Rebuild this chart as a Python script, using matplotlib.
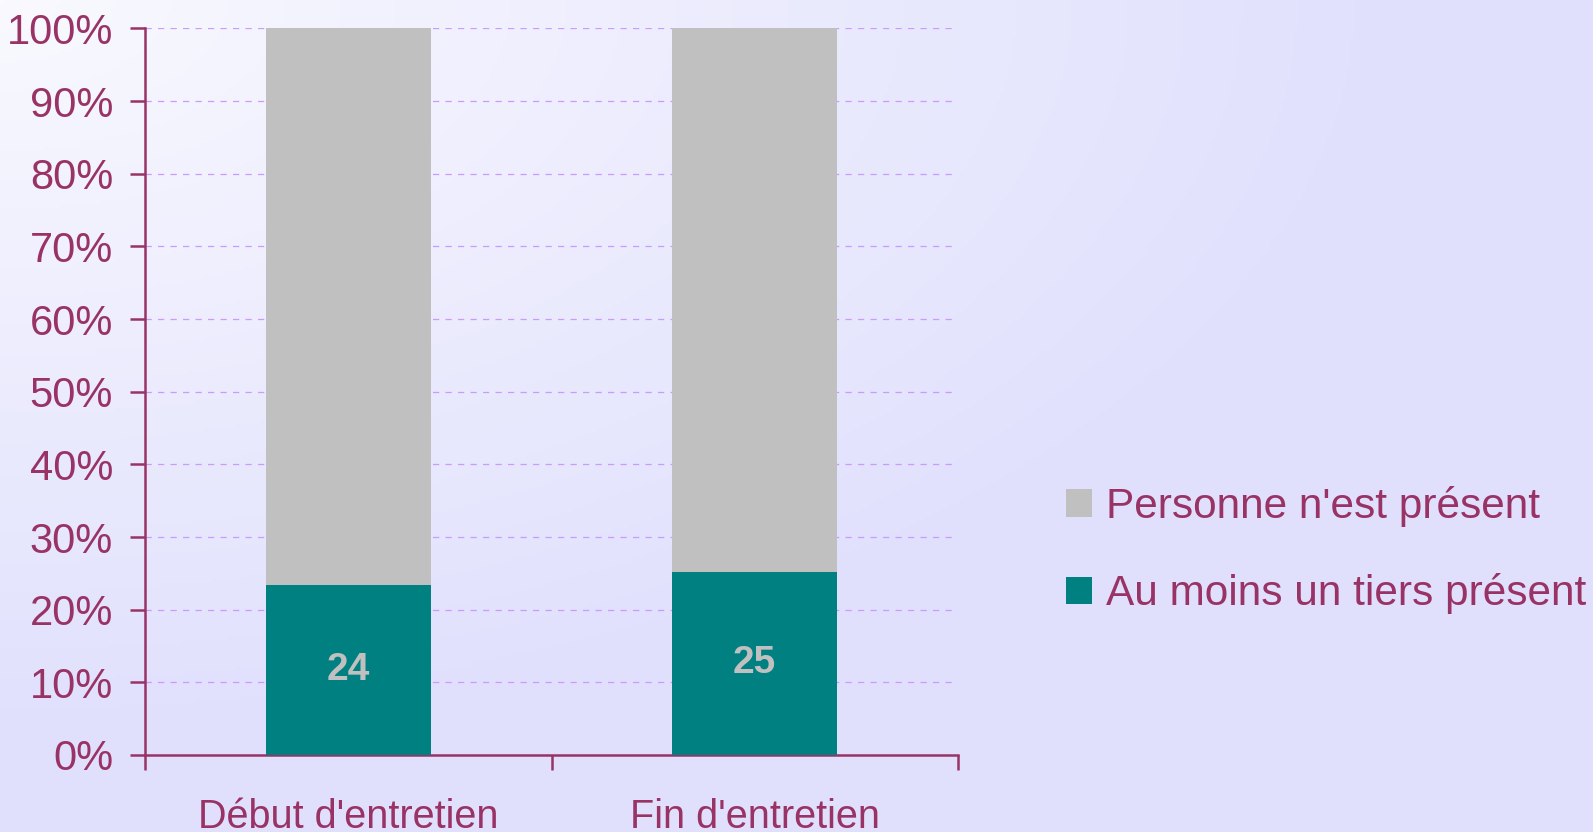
import matplotlib
matplotlib.use("Agg")
import matplotlib.pyplot as plt
import numpy as np
from matplotlib.patches import Patch

categories = ["Début d'entretien", "Fin d'entretien"]
tiers_present = [23.4, 25.2]
personne_present = [76.6, 74.8]
bar_labels = ["24", "25"]
series_names = ["Personne n'est présent", "Au moins un tiers présent"]
yticks = [0, 10, 20, 30, 40, 50, 60, 70, 80, 90, 100]
ytick_labels = [f"{v}%" for v in yticks]

TXT = "#993366"
TEAL = "#008080"
GREY = "#C0C0C0"
GRID = "#CC99FF"

plt.rcParams['font.family'] = ['Liberation Sans', 'DejaVu Sans']

fig = plt.figure(figsize=(15.93, 8.32), dpi=100)

# background gradient
bg = fig.add_axes([0, 0, 1, 1], zorder=-10)
h, w = 200, 400
yy, xx = np.mgrid[0:h, 0:w]
d = np.sqrt((xx / w) ** 2 + (yy / h) ** 2) / np.sqrt(2)
d = np.clip(d * 1.6, 0, 1)
c0 = np.array([249, 249, 255]) / 255
c1 = np.array([224, 224, 253]) / 255
img = c0[None, None, :] * (1 - d[..., None]) + c1[None, None, :] * d[..., None]
bg.imshow(img, aspect='auto', extent=[0, 1, 0, 1], origin='upper')
bg.axis('off')

ax = fig.add_axes([145 / 1593, 1 - 755 / 832, (958 - 145) / 1593, (755 - 28.4) / 832])
ax.patch.set_alpha(0)
x = np.arange(len(categories))
width = 0.405
ax.bar(x, tiers_present, width, color=TEAL, zorder=3, label=series_names[1])
ax.bar(x, personne_present, width, bottom=tiers_present, color=GREY, zorder=3,
       label=series_names[0])
for xi, v, lab in zip(x, tiers_present, bar_labels):
    ax.text(xi, v / 2, lab, ha='center', va='center', color=GREY,
            fontsize=28, fontweight='bold', zorder=4)

ax.set_xlim(-0.5, 1.5)
ax.set_ylim(0, 100)
ax.set_yticks(yticks)
ax.set_yticklabels(ytick_labels)
ax.yaxis.grid(True, color=GRID, linestyle=(0, (5, 5)), linewidth=0.9, zorder=0)
ax.set_xticks([-0.5, 0.5, 1.5])
ax.set_xticklabels([])
ax.set_xticks(x, minor=True)
ax.set_xticklabels(categories, minor=True)

for s in ['top', 'right']:
    ax.spines[s].set_visible(False)
for s in ['left', 'bottom']:
    ax.spines[s].set_color(TXT)
    ax.spines[s].set_linewidth(1.8)
ax.tick_params(axis='y', colors=TXT, labelsize=30, length=11, width=1.8, pad=12)
ax.tick_params(axis='x', which='major', colors=TXT, length=11, width=1.8)
ax.tick_params(axis='x', which='minor', colors=TXT, labelsize=28.5, length=0, pad=31)

handles = [Patch(facecolor=GREY, edgecolor='none'), Patch(facecolor=TEAL, edgecolor='none')]
fig.legend(handles, series_names, loc='center left',
           bbox_to_anchor=(1066 / 1593, 1 - 550 / 832), frameon=False,
           fontsize=30.5, labelcolor=TXT, handlelength=0.62, handleheight=0.62,
           handletextpad=0.33, labelspacing=1.1, borderpad=0, borderaxespad=0)

fig.savefig("out.png", dpi=100)
